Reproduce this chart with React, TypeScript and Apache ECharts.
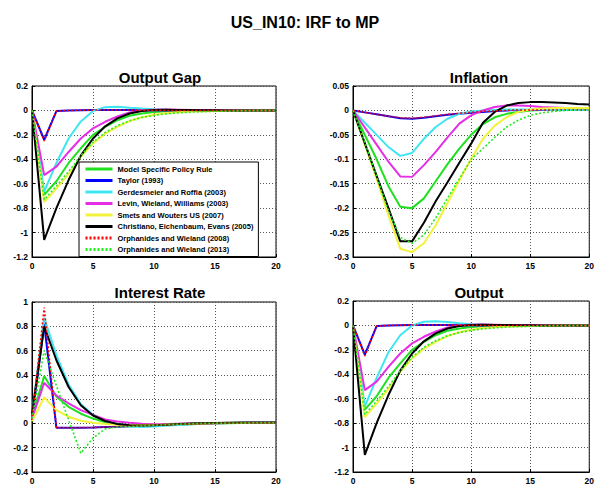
import React, { useEffect, useRef } from "react";
import * as echarts from "echarts";

const periods = [0, 1, 2, 3, 4, 5, 6, 7, 8, 9, 10, 11, 12, 13, 14, 15, 16, 17, 18, 19, 20];

const seriesNames = [
  "Model Specific Policy Rule",
  "Taylor (1993)",
  "Gerdesmeier and Roffia (2003)",
  "Levin, Wieland, Williams (2003)",
  "Smets and Wouters US (2007)",
  "Christiano, Eichenbaum, Evans (2005)",
  "Orphanides and Wieland (2008)",
  "Orphanides and Wieland (2013)",
];

const panelTitles = ["Output Gap", "Inflation", "Interest Rate", "Output"];
const mainTitle = "US_IN10: IRF to MP";

// Output Gap
const ogMsp = [0, -0.69, -0.58, -0.43, -0.31, -0.2, -0.134, -0.08, -0.044, -0.025, -0.012, -0.006, -0.003, -0.001, 0, 0, 0, 0, 0, 0, 0];
const ogTaylor = [0, -0.24, -0.005, 0, 0.002, 0.003, 0.004, 0.004, 0.003, 0.002, 0.001, 0, 0, 0, 0, 0, 0, 0, 0, 0, 0];
const ogGr = [0, -0.665, -0.43, -0.23, -0.09, -0.005, 0.027, 0.03, 0.022, 0.015, 0.01, 0.006, 0.003, 0.001, 0, 0, 0, 0, 0, 0, 0];
const ogLww = [0, -0.53, -0.46, -0.34, -0.23, -0.147, -0.093, -0.05, -0.016, 0, 0.005, 0.007, 0.006, 0.004, 0.003, 0.002, 0.001, 0, 0, 0, 0];
const ogSw = [0, -0.75, -0.64, -0.52, -0.38, -0.27, -0.19, -0.134, -0.087, -0.055, -0.035, -0.022, -0.014, -0.009, -0.006, -0.004, -0.002, -0.001, 0, 0, 0];
const ogCee = [0, -1.06, -0.8, -0.57, -0.37, -0.23, -0.13, -0.065, -0.025, -0.005, 0.003, 0.005, 0.004, 0.003, 0.002, 0.001, 0, 0, 0, 0, 0];
const ogOw08 = [0, -0.25, -0.005, 0, 0.002, 0.003, 0.004, 0.004, 0.003, 0.002, 0.001, 0, 0, 0, 0, 0, 0, 0, 0, 0, 0];
const ogOw13 = [0, -0.73, -0.62, -0.5, -0.37, -0.26, -0.18, -0.125, -0.085, -0.058, -0.04, -0.028, -0.02, -0.014, -0.01, -0.007, -0.005, -0.003, -0.002, -0.001, 0];

// Inflation
const infMsp = [0, -0.05, -0.1, -0.155, -0.197, -0.2, -0.18, -0.145, -0.11, -0.078, -0.05, -0.028, -0.014, -0.007, -0.003, 0, 0.001, 0.002, 0.002, 0.002, 0.002];
const infTaylor = [0, -0.004, -0.008, -0.012, -0.016, -0.017, -0.015, -0.012, -0.009, -0.007, -0.005, -0.003, -0.001, 0, 0.001, 0.001, 0.001, 0.001, 0.001, 0.001, 0.001];
const infGr = [0, -0.025, -0.05, -0.075, -0.093, -0.087, -0.058, -0.034, -0.017, -0.007, -0.002, 0, 0.001, 0.002, 0.002, 0.002, 0.002, 0.001, 0.001, 0.001, 0.001];
const infLww = [0, -0.035, -0.07, -0.105, -0.135, -0.136, -0.112, -0.085, -0.055, -0.027, -0.01, 0, 0.007, 0.01, 0.01, 0.009, 0.007, 0.006, 0.005, 0.004, 0.004];
const infSw = [0, -0.07, -0.14, -0.215, -0.283, -0.29, -0.272, -0.235, -0.19, -0.143, -0.099, -0.058, -0.031, -0.014, -0.003, 0.002, 0.004, 0.005, 0.005, 0.005, 0.005];
const infCee = [0, -0.067, -0.134, -0.2, -0.268, -0.268, -0.23, -0.186, -0.147, -0.107, -0.068, -0.025, -0.003, 0.01, 0.015, 0.017, 0.017, 0.016, 0.015, 0.013, 0.012];
const infOw08 = [0, -0.004, -0.008, -0.012, -0.015, -0.016, -0.014, -0.011, -0.008, -0.006, -0.004, -0.002, -0.001, 0, 0.001, 0.001, 0.001, 0.001, 0.001, 0.001, 0.001];
const infOw13 = [0, -0.065, -0.135, -0.205, -0.26, -0.272, -0.255, -0.22, -0.18, -0.14, -0.1, -0.078, -0.055, -0.034, -0.02, -0.01, -0.005, -0.002, 0, 0.001, 0.001];

// Interest Rate
const irMsp = [0.05, 0.39, 0.22, 0.137, 0.08, 0.04, 0.01, -0.005, -0.015, -0.02, -0.018, -0.014, -0.01, -0.006, -0.003, 0, 0.002, 0.003, 0.004, 0.005, 0.005];
const irTaylor = [0.03, 0.82, -0.035, -0.035, -0.035, -0.033, -0.03, -0.027, -0.023, -0.019, -0.015, -0.011, -0.007, -0.004, -0.001, 0.001, 0.003, 0.004, 0.005, 0.006, 0.006];
const irGr = [0.08, 0.87, 0.56, 0.32, 0.16, 0.07, 0.02, -0.01, -0.025, -0.03, -0.025, -0.018, -0.012, -0.006, -0.002, 0.001, 0.003, 0.005, 0.006, 0.006, 0.007];
const irLww = [0.04, 0.335, 0.23, 0.165, 0.11, 0.07, 0.033, 0.015, 0.005, -0.002, -0.005, -0.005, -0.003, -0.001, 0, 0.002, 0.003, 0.004, 0.005, 0.005, 0.006];
const irSw = [0.02, 0.214, 0.11, 0.055, 0.022, 0.005, -0.005, -0.01, -0.012, -0.012, -0.01, -0.008, -0.005, -0.003, 0, 0.002, 0.003, 0.004, 0.005, 0.005, 0.005];
const irCee = [0.08, 0.8, 0.52, 0.3, 0.15, 0.065, 0.02, -0.005, -0.015, -0.018, -0.015, -0.01, -0.005, -0.001, 0.002, 0.004, 0.006, 0.007, 0.008, 0.008, 0.008];
const irOw08 = [0.03, 0.955, -0.035, -0.035, -0.035, -0.033, -0.03, -0.027, -0.023, -0.019, -0.015, -0.011, -0.007, -0.004, -0.001, 0.001, 0.003, 0.004, 0.005, 0.006, 0.006];
const irOw13 = [0.04, 0.6, 0.31, 0.03, -0.245, -0.12, -0.045, -0.03, -0.025, -0.02, -0.015, -0.01, -0.006, -0.003, 0, 0.002, 0.003, 0.004, 0.005, 0.005, 0.006];

// Output
const yMsp = [0, -0.69, -0.58, -0.43, -0.31, -0.2, -0.134, -0.08, -0.044, -0.025, -0.012, -0.006, -0.003, -0.001, 0, 0, 0, 0, 0, 0, 0];
const yTaylor = [0, -0.24, -0.005, 0, 0.002, 0.003, 0.004, 0.004, 0.003, 0.002, 0.001, 0, 0, 0, 0, 0, 0, 0, 0, 0, 0];
const yGr = [0, -0.665, -0.43, -0.22, -0.08, 0, 0.03, 0.035, 0.028, 0.018, 0.01, 0.005, 0.002, 0.001, 0, 0, 0, 0, 0, 0, 0];
const yLww = [0, -0.53, -0.46, -0.34, -0.23, -0.147, -0.093, -0.05, -0.016, 0, 0.005, 0.007, 0.006, 0.004, 0.003, 0.002, 0.001, 0, 0, 0, 0];
const ySw = [0, -0.75, -0.64, -0.52, -0.38, -0.27, -0.19, -0.134, -0.087, -0.055, -0.035, -0.022, -0.014, -0.009, -0.006, -0.004, -0.002, -0.001, 0, 0, 0];
const yCee = [0, -1.06, -0.8, -0.57, -0.37, -0.23, -0.13, -0.065, -0.025, -0.005, 0.003, 0.005, 0.004, 0.003, 0.002, 0.001, 0, 0, 0, 0, 0];
const yOw08 = [0, -0.25, -0.005, 0, 0.002, 0.003, 0.004, 0.004, 0.003, 0.002, 0.001, 0, 0, 0, 0, 0, 0, 0, 0, 0, 0];
const yOw13 = [0, -0.73, -0.62, -0.5, -0.37, -0.26, -0.18, -0.125, -0.085, -0.058, -0.04, -0.028, -0.02, -0.014, -0.01, -0.007, -0.005, -0.003, -0.002, -0.001, 0];

const panelData = [
  [ogMsp, ogTaylor, ogGr, ogLww, ogSw, ogCee, ogOw08, ogOw13],
  [infMsp, infTaylor, infGr, infLww, infSw, infCee, infOw08, infOw13],
  [irMsp, irTaylor, irGr, irLww, irSw, irCee, irOw08, irOw13],
  [yMsp, yTaylor, yGr, yLww, ySw, yCee, yOw08, yOw13],
];

const yMins = [-1.2, -0.3, -0.4, -1.2];
const yMaxs = [0.2, 0.05, 1, 0.2];
const yIntervals = [0.2, 0.05, 0.2, 0.2];

const colors = ["#1ee01e", "#0000ff", "#3fe6f2", "#e62ee6", "#f2f23a", "#000000", "#ff0000", "#22ee22"];
const dashed = [false, false, false, false, false, false, true, true];

const grids = [
  { left: 32, top: 86, width: 244, height: 171 },
  { left: 353, top: 86, width: 243, height: 171 },
  { left: 32, top: 302, width: 244, height: 170 },
  { left: 353, top: 301, width: 243, height: 171 },
];

const titlePos = [
  { x: 155, y: 65 },
  { x: 474, y: 65 },
  { x: 155, y: 280 },
  { x: 474, y: 280 },
];

export default function App() {
  const ref = useRef<HTMLDivElement>(null);
  useEffect(() => {
    if (!ref.current) return;
    const chart = echarts.init(ref.current, null, { renderer: "svg" });
    const font = "Liberation Sans, Arial, sans-serif";
    const axisLabel = { fontSize: 8.5, fontWeight: "bold" as const, color: "#000", fontFamily: font };
    const series: any[] = [];
    panelData.forEach((panel, p) => {
      panel.forEach((vals, s) => {
        series.push({
          type: "line",
          name: seriesNames[s],
          xAxisIndex: p,
          yAxisIndex: p,
          data: periods.map((t, i) => [t, vals[i]]),
          symbol: "none",
          showSymbol: false,
          color: colors[s],
          lineStyle: {
            color: colors[s],
            width: dashed[s] ? 1.6 : 2,
            type: dashed[s] ? [2, 2] : "solid",
          },
          clip: true,
        });
      });
    });
    const option: any = {
      animation: false,
      backgroundColor: "#fff",
      title: [
        {
          text: mainTitle,
          left: 300,
          top: 9,
          textAlign: "center",
          textStyle: { fontSize: 16, fontWeight: "bold", color: "#000", fontFamily: font },
        },
        ...panelTitles.map((t, i) => ({
          text: t,
          left: titlePos[i].x,
          top: titlePos[i].y,
          textAlign: "center",
          textStyle: { fontSize: 15, fontWeight: "bold", color: "#000", fontFamily: font },
        })),
      ],
      grid: grids.map((g) => ({
        ...g,
        show: true,
        borderColor: "#000",
        borderWidth: 1,
        backgroundColor: "#fff",
        containLabel: false,
      })),
      xAxis: grids.map((_, i) => ({
        type: "value",
        gridIndex: i,
        min: 0,
        max: 20,
        interval: 5,
        axisLine: { show: true, onZero: false, lineStyle: { color: "#000", width: 1 } },
        axisTick: { show: true, inside: true, length: 3, lineStyle: { color: "#000" } },
        axisLabel: { ...axisLabel, margin: 4 },
        splitLine: { show: true, lineStyle: { color: "#555", type: [1, 2], width: 1 } },
      })),
      yAxis: grids.map((_, i) => ({
        type: "value",
        gridIndex: i,
        min: yMins[i],
        max: yMaxs[i],
        interval: yIntervals[i],
        axisLine: { show: true, onZero: false, lineStyle: { color: "#000", width: 1 } },
        axisTick: { show: true, inside: true, length: 3, lineStyle: { color: "#000" } },
        axisLabel: { ...axisLabel, margin: 4 },
        splitLine: { show: true, lineStyle: { color: "#555", type: [1, 2], width: 1 } },
      })),
      legend: {
        data: seriesNames,
        orient: "vertical",
        left: 79,
        top: 162,
        itemWidth: 27,
        itemHeight: 7,
        itemGap: 3.5,
        padding: [3, 5, 3, 5],
        backgroundColor: "#fff",
        borderColor: "#000",
        borderWidth: 1,
        borderRadius: 0,
        selectedMode: false,
        itemStyle: { opacity: 0 },
        lineStyle: { width: 3 },
        textStyle: { fontSize: 7.5, fontWeight: "bold", color: "#000", fontFamily: font },
      },
      series,
    };
    chart.setOption(option);
    return () => chart.dispose();
  }, []);
  return (
    <div
      ref={ref}
      style={{ position: "fixed", left: 0, top: 0, width: 597, height: 485, background: "#fff" }}
    />
  );
}
